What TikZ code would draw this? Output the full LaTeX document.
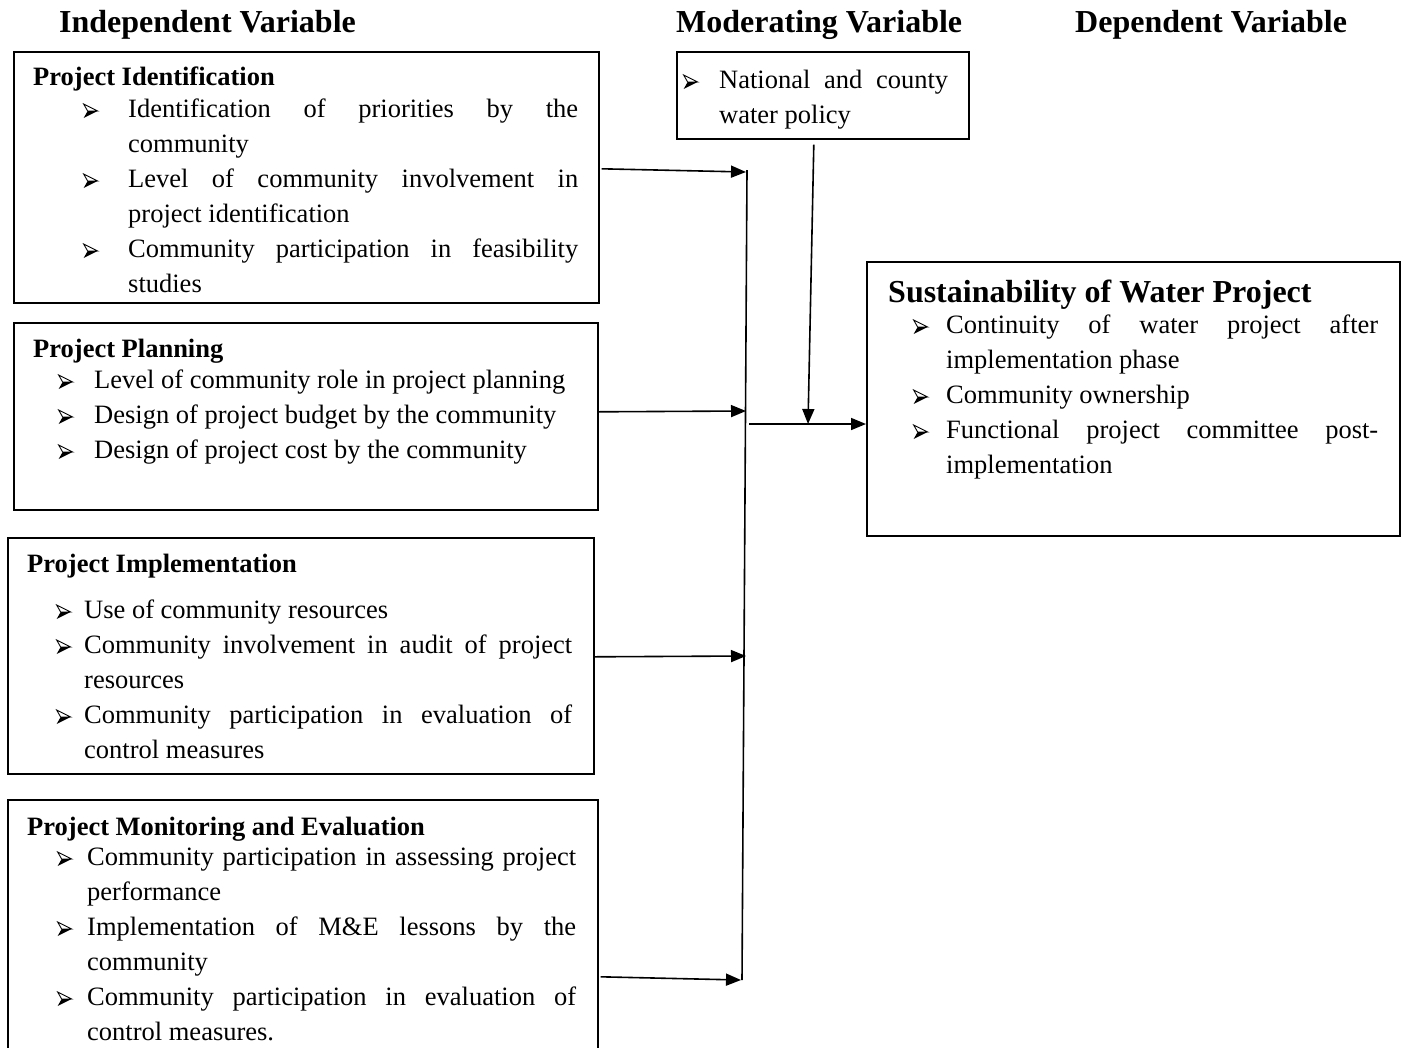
\documentclass[tikz,border=0pt]{standalone}
\usepackage{fontspec}
\setmainfont{Liberation Serif}
\usepackage{tikz}
\usetikzlibrary{calc}
\usetikzlibrary{arrows.meta, positioning}

\hyphenpenalty=10000
\tolerance=9999
\newcommand{\bodyfont}{\fontsize{26.5}{35}\selectfont\hyphenpenalty=10000\relax}
% arrowhead bullet, lower half filled
\newcommand{\bulmark}{\tikz[x=1pt,y=1pt,baseline=-6pt,line width=0.9pt,line join=miter]{%
  \draw (0,7) -- (14,0) -- (4,0) -- cycle;
  \fill (4,0) -- (14,0) -- (0,-7) -- cycle;}}
% bulleted line: text indent, gap from bullet to text, text
\newcommand{\pitem}[3]{\leftskip=#1\relax\noindent\llap{\makebox[#2][l]{\bulmark}}#3\par}

\tikzset{
  frame/.style={draw, line width=1.6pt, inner sep=0pt, anchor=north west},
  body/.style={inner sep=0pt, anchor=base west, align=justify, font=\bodyfont},
  head/.style={inner sep=0pt, anchor=base west, font=\fontsize{32}{38}\selectfont\bfseries},
  arr/.style={line width=1.6pt, -{Triangle[length=15pt,width=12pt]}},
}

\begin{document}
\begin{tikzpicture}[x=1pt,y=-1pt]

\useasboundingbox (0,0) rectangle (1404,1047);
\clip (0,0) rectangle (1404,1047);

% Column titles
\node[head] (indhead) at (59,32) {Independent Variable};
\node[head] (modhead) at (676,32) {Moderating Variable};
\node[head] (dephead) at (1075,32) {Dependent Variable};

% Frames
\node[frame, minimum width=585pt, minimum height=251pt] (idbox) at (13,51) {};
\node[frame, minimum width=584pt, minimum height=187pt] (planbox) at (13,322) {};
\node[frame, minimum width=586pt, minimum height=236pt] (implbox) at (7,537) {};
\node[frame, minimum width=590pt, minimum height=271pt] (mebox) at (7,799) {};
\node[frame, minimum width=292pt, minimum height=87pt] (modbox) at (676,51) {};
\node[frame, minimum width=533pt, minimum height=274pt] (depbox) at (866,261) {};

% Text Node
\node[body, text width=545pt] (idtxt) at (33,85) {%
{\bfseries Project Identification}\par\vspace{-3pt}
\pitem{95pt}{45pt}{Identification of priorities by the community}
\pitem{95pt}{45pt}{Level of community involvement in project identification}
\pitem{95pt}{45pt}{Community participation in feasibility studies}};
% Text Node
\node[body, text width=545pt] (plantxt) at (33,357) {%
{\bfseries Project Planning}\par\vspace{-4pt}
\pitem{61pt}{36pt}{Level of community role in project planning}
\pitem{61pt}{36pt}{Design of project budget by the community}
\pitem{61pt}{36pt}{Design of project cost by the community}};
% Text Node
\node[body, text width=545pt] (impltxt) at (27,572) {%
{\bfseries Project Implementation}\par\vspace{11pt}
\pitem{57pt}{28pt}{Use of community resources}
\pitem{57pt}{28pt}{Community involvement in audit of project resources}
\pitem{57pt}{28pt}{Community participation in evaluation of control measures}};
% Text Node
\node[body, text width=549pt] (metxt) at (27,835) {%
{\bfseries Project Monitoring and Evaluation}\par\vspace{-5pt}
\pitem{60pt}{30pt}{Community participation in assessing project performance}
\pitem{60pt}{30pt}{Implementation of M\&E lessons by the community}
\pitem{60pt}{30pt}{Community participation in evaluation of control measures.}};
% Text Node
\node[body, text width=265pt] (modtxt) at (683,88) {%
\pitem{36pt}{36pt}{National and county water policy}};
% Text Node
\node[body, text width=490pt] (deptxt) at (888,302) {%
{\fontsize{32}{38}\selectfont\bfseries Sustainability of Water Project}\par\vspace{-4pt}
\pitem{58pt}{33pt}{Continuity of water project after implementation phase}
\pitem{58pt}{33pt}{Community ownership}
\pitem{58pt}{33pt}{Functional project committee post-implementation}};

% Collecting bar
\coordinate (bartop) at (747,170);
\coordinate (barbot) at (742,980);
\coordinate (in1) at (746,172);
\coordinate (in2) at (746,411);
\coordinate (in3) at (746,656);
\coordinate (in4) at (741,980);
\coordinate (mid) at (749,424);
\coordinate (modend) at (808,424);

\draw[line width=1.6pt] (bartop) -- (barbot);
\draw[arr] ($(idbox.east)+(2,-8.5)$) -- (in1);
\draw[arr] ($(planbox.east)+(0,-4.5)$) -- (in2);
\draw[arr] ($(implbox.east)+(0,1)$) -- (in3);
\draw[arr] ($(mebox.east)+(2,41.5)$) -- (in4);
\draw[arr] ($(modbox.south)+(-9,5)$) -- (modend);
\draw[arr] (mid) -- (depbox.west |- mid);

\end{tikzpicture}
\end{document}
